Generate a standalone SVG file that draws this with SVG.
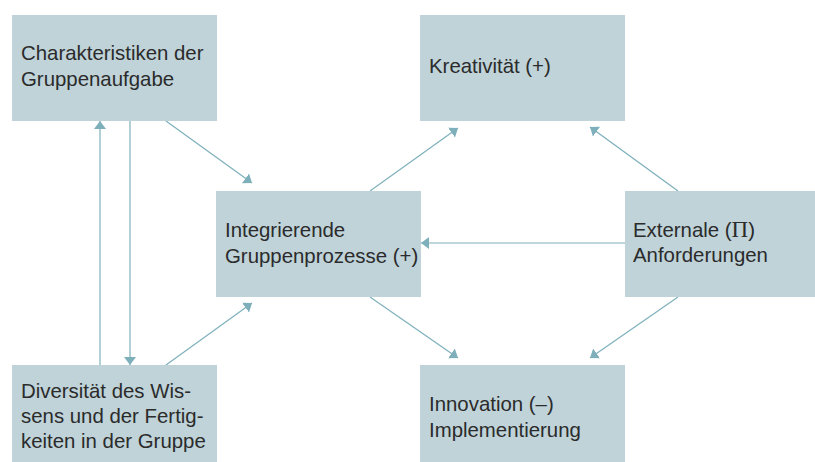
<svg xmlns="http://www.w3.org/2000/svg" width="815" height="462" viewBox="0 0 815 462">
<style>
.box{fill:#bfd3d9}
.t{font-family:"Liberation Sans",Arial,sans-serif;font-size:20.4px;fill:#2b2b2b}
.pi{font-family:"Liberation Serif","Times New Roman",serif;font-size:23px}
.c{stroke:#7eb0bb;stroke-width:1.2;fill:none;marker-end:url(#ah)}
</style>
<defs>
<marker id="ah" viewBox="0 0 8 12" refX="8" refY="6" markerWidth="8" markerHeight="12" markerUnits="userSpaceOnUse" orient="auto">
<path d="M0,0 L8,6 L0,12 Z" fill="#7eb0bb"/>
</marker>
</defs>
<rect width="815" height="462" fill="#ffffff"/>
<g id="connectors">
<line class="c" x1="100" y1="365" x2="100" y2="121"/>
<line class="c" x1="130" y1="121" x2="130" y2="365"/>
<line class="c" x1="166" y1="121" x2="252" y2="183"/>
<line class="c" x1="166" y1="365" x2="252" y2="303"/>
<line class="c" x1="370" y1="191" x2="458" y2="128"/>
<line class="c" x1="678" y1="191" x2="590" y2="127"/>
<line class="c" x1="625" y1="243" x2="421" y2="243"/>
<line class="c" x1="370" y1="297" x2="458" y2="358"/>
<line class="c" x1="678" y1="297" x2="590" y2="358"/>
</g>
<g id="n-charakteristiken">
<rect class="box" x="12" y="15" width="205" height="106"/>
<text class="t" x="21" y="60">Charakteristiken der</text>
<text class="t" x="21" y="86">Gruppenaufgabe</text>
</g>
<g id="n-kreativitaet">
<rect class="box" x="420" y="15" width="205" height="106"/>
<text class="t" x="429" y="73">Kreativität (+)</text>
</g>
<g id="n-integrierende">
<rect class="box" x="216" y="191" width="205" height="106"/>
<text class="t" x="225" y="237">Integrierende</text>
<text class="t" x="225" y="263">Gruppenprozesse (+)</text>
</g>
<g id="n-externale">
<rect class="box" x="625" y="191" width="190" height="106"/>
<text class="t" x="633" y="237">Externale (<tspan class="pi">Π</tspan>)</text>
<text class="t" x="633" y="262">Anforderungen</text>
</g>
<g id="n-diversitaet">
<rect class="box" x="12" y="365" width="205" height="97"/>
<text class="t" x="21" y="398">Diversität des Wis-</text>
<text class="t" x="21" y="423">sens und der Fertig-</text>
<text class="t" x="21" y="448">keiten in der Gruppe</text>
</g>
<g id="n-innovation">
<rect class="box" x="420" y="365" width="205" height="97"/>
<text class="t" x="429" y="411">Innovation (–)</text>
<text class="t" x="429" y="437">Implementierung</text>
</g>
</svg>
